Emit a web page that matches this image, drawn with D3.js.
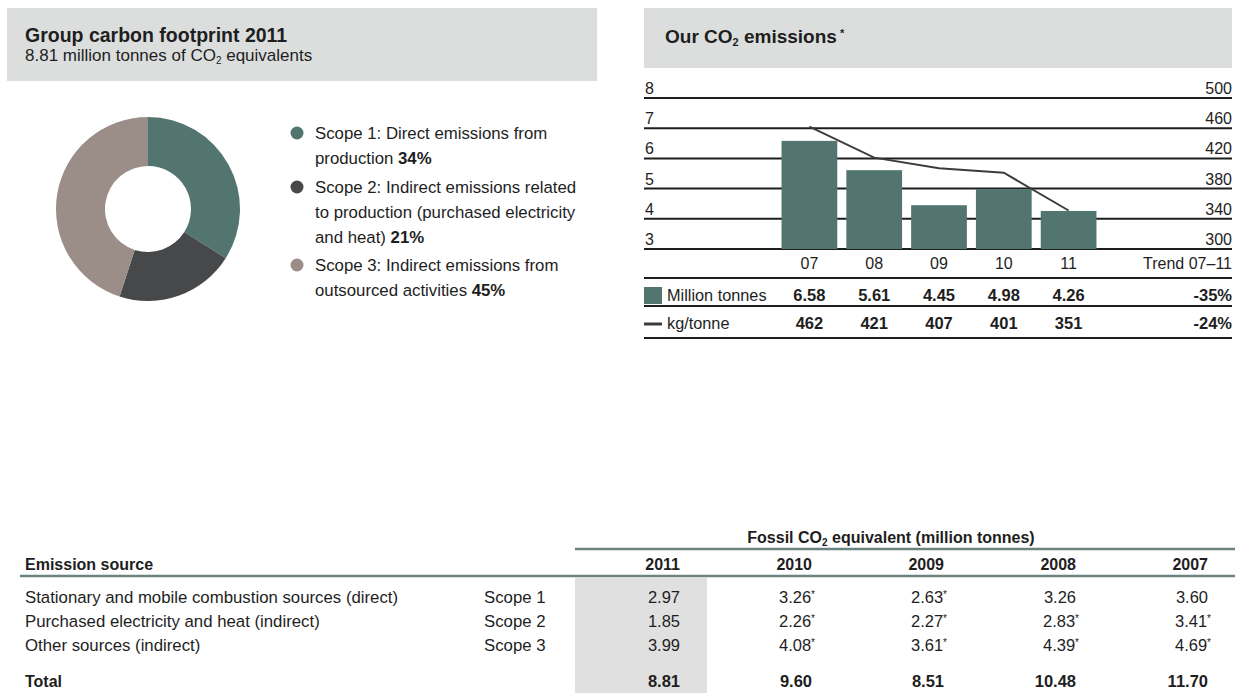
<!DOCTYPE html>
<html>
<head>
<meta charset="utf-8">
<script src="https://cdn.jsdelivr.net/npm/d3@7"></script>
<style>
  html, body { margin: 0; padding: 0; background: #fff; }
  svg { display: block; font-family: "Liberation Sans", Arial, sans-serif; }
  text { fill: #1e1e1e; }
</style>
</head>
<body>
<div id="chart"></div>
<script>
// donut
const scopeNames = ['Scope 1', 'Scope 2', 'Scope 3'];
const scopeShares = [34, 21, 45];
const scopeLines = [
  ['Scope 1: Direct emissions from', 'production '],
  ['Scope 2: Indirect emissions related', 'to production (purchased electricity', 'and heat) '],
  ['Scope 3: Indirect emissions from', 'outsourced activities ']
];
const scopeColors = ['#52756f', '#474849', '#9b8e89'];

// bar + line
const years = ['07', '08', '09', '10', '11'];
const tonnes = [6.58, 5.61, 4.45, 4.98, 4.26];
const kgPerTonne = [462, 421, 407, 401, 351];
const trend = ['-35%', '-24%'];
const leftTicks = [3, 4, 5, 6, 7, 8];
const rightTicks = [300, 340, 380, 420, 460, 500];

// table
const tableYears = ['2011', '2010', '2009', '2008', '2007'];
const sources = ['Stationary and mobile combustion sources (direct)', 'Purchased electricity and heat (indirect)', 'Other sources (indirect)'];
const scope1 = ['2.97', '3.26*', '2.63*', '3.26', '3.60'];
const scope2 = ['1.85', '2.26*', '2.27*', '2.83*', '3.41*'];
const scope3 = ['3.99', '4.08*', '3.61*', '4.39*', '4.69*'];
const totals = ['8.81', '9.60', '8.51', '10.48', '11.70'];

const W = 1241, H = 693;
const svg = d3.select('#chart').append('svg')
  .attr('width', W)
  .attr('height', H);

// ---------- left panel ----------
svg.append('rect')
  .attr('x', 7).attr('y', 8).attr('width', 590).attr('height', 73)
  .attr('fill', '#dcdedd');

svg.append('text')
  .attr('x', 25).attr('y', 42)
  .style('font-size', '19.5px').style('font-weight', 'bold')
  .text('Group carbon footprint 2011');

const sub = svg.append('text')
  .attr('x', 25).attr('y', 61)
  .style('font-size', '17px');
sub.append('tspan').text('8.81 million tonnes of CO');
sub.append('tspan').attr('dy', 3).style('font-size', '10px').text('2');
sub.append('tspan').attr('dy', -3).text(' equivalents');

const pie = d3.pie().sort(null).value(d => d);
const arc = d3.arc().innerRadius(43).outerRadius(92);

svg.append('g')
  .attr('transform', 'translate(148,209)')
  .selectAll('path')
  .data(pie(scopeShares))
  .join('path')
    .attr('d', arc)
    .attr('fill', (d, i) => scopeColors[i]);

const legendTop = [139, 193, 271];
const legend = svg.append('g')
  .selectAll('g')
  .data(scopeNames)
  .join('g')
    .attr('transform', (d, i) => `translate(0,${legendTop[i]})`);

legend.append('circle')
  .attr('cx', 297).attr('cy', -6).attr('r', 6.5)
  .attr('fill', (d, i) => scopeColors[i]);

legend.each(function (d, i) {
  const g = d3.select(this);
  const lines = scopeLines[i];
  lines.forEach((l, j) => {
    const t = g.append('text')
      .attr('x', 315).attr('y', j * 25)
      .style('font-size', '16.8px');
    t.append('tspan').text(l);
    if (j === lines.length - 1) {
      t.append('tspan').style('font-weight', 'bold').text(scopeShares[i] + '%');
    }
  });
});

// ---------- right panel ----------
const rx0 = 644, rx1 = 1232;

svg.append('rect')
  .attr('x', rx0).attr('y', 8).attr('width', rx1 - rx0).attr('height', 60)
  .attr('fill', '#dcdedd');

const t2 = svg.append('text')
  .attr('x', 665).attr('y', 43)
  .style('font-size', '19px').style('font-weight', 'bold');
t2.append('tspan').text('Our CO');
t2.append('tspan').attr('dy', 3).style('font-size', '11px').text('2');
t2.append('tspan').attr('dy', -3).text(' emissions');
t2.append('tspan').attr('dy', -6).style('font-size', '11px').text(' *');

const y = d3.scaleLinear().domain([3, 8]).range([249, 98]);
const yR = d3.scaleLinear().domain([300, 500]).range([249, 98]);
const x = d3.scaleBand().domain(years).range([777, 1101])
  .paddingInner(0.14).paddingOuter(0.07);

const tickSize = '16px';

// gridlines
svg.append('g')
  .selectAll('line')
  .data(leftTicks)
  .join('line')
    .attr('x1', rx0).attr('x2', rx1)
    .attr('y1', d => y(d)).attr('y2', d => y(d))
    .attr('stroke', '#1e1e1e').attr('stroke-width', 2);

svg.append('g')
  .selectAll('text')
  .data(leftTicks)
  .join('text')
    .attr('x', rx0 + 1).attr('y', d => y(d) - 4)
    .style('font-size', tickSize)
    .text(d => d);

svg.append('g')
  .selectAll('text')
  .data(rightTicks)
  .join('text')
    .attr('x', rx1).attr('y', d => yR(d) - 4)
    .attr('text-anchor', 'end')
    .style('font-size', tickSize)
    .text(d => d);

// bars
svg.append('g')
  .selectAll('rect')
  .data(tonnes)
  .join('rect')
    .attr('x', (d, i) => x(years[i]))
    .attr('width', x.bandwidth())
    .attr('y', d => y(d))
    .attr('height', d => y(3) - y(d))
    .attr('fill', scopeColors[0]);

// line
const line = d3.line()
  .x((d, i) => x(years[i]) + x.bandwidth() / 2)
  .y(d => yR(d));

svg.append('path')
  .datum(kgPerTonne)
  .attr('d', line)
  .attr('fill', 'none')
  .attr('stroke', '#3c3c3c')
  .attr('stroke-width', 2);

// years row
const cx = d => x(d) + x.bandwidth() / 2;
svg.append('g')
  .selectAll('text')
  .data(years)
  .join('text')
    .attr('x', cx).attr('y', 269)
    .attr('text-anchor', 'middle')
    .style('font-size', tickSize)
    .text(d => d);

svg.append('text')
  .attr('x', rx1).attr('y', 269)
  .attr('text-anchor', 'end')
  .style('font-size', tickSize)
  .text('Trend 07\u201311');

[278, 306, 338].forEach(yy => {
  svg.append('line')
    .attr('x1', rx0).attr('x2', rx1)
    .attr('y1', yy).attr('y2', yy)
    .attr('stroke', '#1e1e1e').attr('stroke-width', 2);
});

// million tonnes row
svg.append('rect')
  .attr('x', rx0).attr('y', 287).attr('width', 18).attr('height', 17)
  .attr('fill', scopeColors[0]);
svg.append('text')
  .attr('x', 667).attr('y', 301)
  .style('font-size', '16.3px')
  .text('Million tonnes');
svg.append('g')
  .selectAll('text')
  .data(tonnes)
  .join('text')
    .attr('x', (d, i) => cx(years[i])).attr('y', 301)
    .attr('text-anchor', 'middle')
    .style('font-size', '16.5px').style('font-weight', 'bold')
    .text(d => d.toFixed(2));
svg.append('text')
  .attr('x', rx1).attr('y', 301)
  .attr('text-anchor', 'end')
  .style('font-size', '16.5px').style('font-weight', 'bold')
  .text(trend[0]);

// kg/tonne row
svg.append('line')
  .attr('x1', rx0).attr('x2', rx0 + 18)
  .attr('y1', 324).attr('y2', 324)
  .attr('stroke', '#3c3c3c').attr('stroke-width', 3);
svg.append('text')
  .attr('x', 667).attr('y', 329)
  .style('font-size', '16.3px')
  .text('kg/tonne');
svg.append('g')
  .selectAll('text')
  .data(kgPerTonne)
  .join('text')
    .attr('x', (d, i) => cx(years[i])).attr('y', 329)
    .attr('text-anchor', 'middle')
    .style('font-size', '16.5px').style('font-weight', 'bold')
    .text(d => d);
svg.append('text')
  .attr('x', rx1).attr('y', 329)
  .attr('text-anchor', 'end')
  .style('font-size', '16.5px').style('font-weight', 'bold')
  .text(trend[1]);

// ---------- table ----------
const col = d3.scaleBand().domain(tableYears).range([575, 1235]);
const colRight = d => col(d) + col.bandwidth() - 27;
const rows = [scope1, scope2, scope3, totals];
const rowY = d3.scalePoint().domain(d3.range(3)).range([603, 651]);
const totalY = 687;
const lineColor = '#6b8480';
const cellSize = '16.5px';

svg.append('rect')
  .attr('x', col('2011')).attr('y', 578)
  .attr('width', col.bandwidth()).attr('height', H - 578)
  .attr('fill', '#dfe0df');

const fossil = svg.append('text')
  .attr('x', 891).attr('y', 543)
  .attr('text-anchor', 'middle')
  .style('font-size', '16px').style('font-weight', 'bold');
fossil.append('tspan').text('Fossil CO');
fossil.append('tspan').attr('dy', 3).style('font-size', '10px').text('2');
fossil.append('tspan').attr('dy', -3).text(' equivalent (million tonnes)');

svg.append('line')
  .attr('x1', col('2011')).attr('x2', 1235)
  .attr('y1', 549).attr('y2', 549)
  .attr('stroke', lineColor).attr('stroke-width', 2.5);

svg.append('line')
  .attr('x1', 20).attr('x2', 1235)
  .attr('y1', 576).attr('y2', 576)
  .attr('stroke', lineColor).attr('stroke-width', 2.5);

svg.append('text')
  .attr('x', 25).attr('y', 570)
  .style('font-size', '16px').style('font-weight', 'bold')
  .text('Emission source');

svg.append('g')
  .selectAll('text')
  .data(tableYears)
  .join('text')
    .attr('x', colRight).attr('y', 570)
    .attr('text-anchor', 'end')
    .style('font-size', '16px').style('font-weight', 'bold')
    .text(d => d);

svg.append('g')
  .selectAll('text')
  .data(sources)
  .join('text')
    .attr('x', 25).attr('y', (d, i) => rowY(i))
    .style('font-size', '16.8px')
    .text(d => d);

svg.append('g')
  .selectAll('text')
  .data(scopeNames)
  .join('text')
    .attr('x', 484).attr('y', (d, i) => rowY(i))
    .style('font-size', '16.8px')
    .text(d => d);

svg.append('text')
  .attr('x', 25).attr('y', totalY)
  .style('font-size', '16px').style('font-weight', 'bold')
  .text('Total');

rows.forEach((vals, r) => {
  const yy = r < 3 ? rowY(r) : totalY;
  const bold = r === 3;
  vals.forEach((v, c) => {
    const star = v.endsWith('*');
    const t = svg.append('text')
      .attr('x', colRight(tableYears[c]) + (star ? 3 : 0))
      .attr('y', yy)
      .attr('text-anchor', 'end')
      .style('font-size', cellSize)
      .style('font-weight', bold ? 'bold' : 'normal');
    t.append('tspan').text(star ? v.slice(0, -1) : v);
    if (star) {
      t.append('tspan').attr('dy', -5).style('font-size', '10px').text('*');
    }
  });
});
</script>
</body>
</html>
